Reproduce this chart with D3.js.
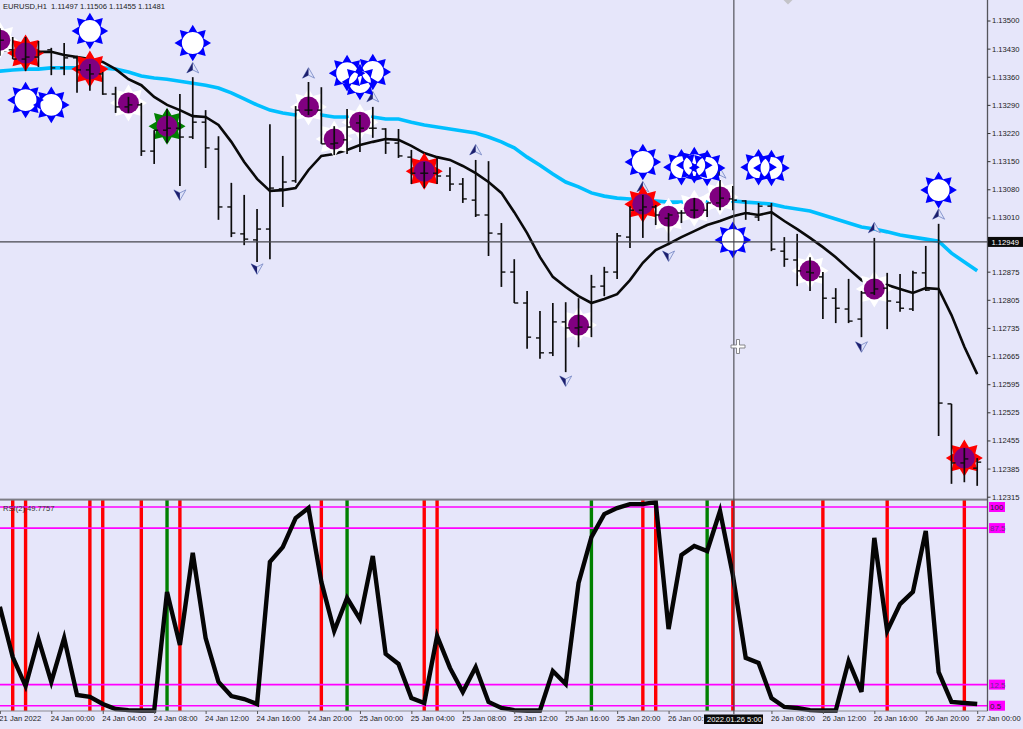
<!DOCTYPE html>
<html><head><meta charset="utf-8">
<script src="https://cdn.jsdelivr.net/npm/d3@7/dist/d3.min.js"></script>
<style>
html,body{margin:0;padding:0;background:#E6E6FA;overflow:hidden}
svg{display:block}
text{font-family:"Liberation Sans",Arial,sans-serif;font-size:7.6px;fill:#222}
</style></head><body><div id="chart"></div>
<script>
// hours relative to 24 Jan 00:00, one bar per hour
const hours = d3.range(-4, 73);
const opens = [1.13464,1.13427,1.13404,1.13409,1.13427,1.13382,1.13407,1.13377,1.13367,1.13317,1.13285,1.13290,1.13175,1.13227,1.13232,1.13210,1.13247,1.13180,1.13036,1.12969,1.12954,1.12981,1.13081,1.13101,1.13277,1.13277,1.13193,1.13203,1.13245,1.13232,1.13230,1.13195,1.13160,1.13120,1.13120,1.13113,1.13093,1.13053,1.13016,1.12969,1.12874,1.12797,1.12710,1.12673,1.12750,1.12735,1.12737,1.12839,1.12874,1.12961,1.13028,1.13036,1.13008,1.13021,1.13028,1.13028,1.13046,1.13056,1.13051,1.13011,1.13038,1.12926,1.12904,1.12874,1.12862,1.12809,1.12782,1.12757,1.12822,1.12834,1.12799,1.12782,1.12872,1.12832,1.12546,1.12399,1.12386];
const highs = [1.13481,1.13459,1.13459,1.13449,1.13432,1.13444,1.13412,1.13392,1.13372,1.13335,1.13310,1.13295,1.13227,1.13280,1.13317,1.13359,1.13277,1.13212,1.13096,1.13066,1.13031,1.13242,1.13163,1.13287,1.13347,1.13334,1.13237,1.13280,1.13265,1.13285,1.13232,1.13230,1.13178,1.13148,1.13158,1.13135,1.13108,1.13153,1.13150,1.12996,1.12906,1.12827,1.12777,1.12797,1.12799,1.12809,1.12867,1.12887,1.12971,1.13038,1.13066,1.13041,1.13021,1.13028,1.13058,1.13046,1.13103,1.13088,1.13053,1.13046,1.13046,1.12961,1.12969,1.12911,1.12874,1.12834,1.12857,1.12827,1.12959,1.12872,1.12869,1.12877,1.12939,1.12994,1.12546,1.12436,1.12411];
const lows = [1.13412,1.13404,1.13374,1.13384,1.13364,1.13364,1.13320,1.13325,1.13315,1.13270,1.13270,1.13163,1.13143,1.13195,1.13088,1.13205,1.13133,1.13004,1.12961,1.12941,1.12899,1.12906,1.13036,1.13096,1.13265,1.13193,1.13165,1.13168,1.13173,1.13208,1.13168,1.13158,1.13093,1.13083,1.13093,1.13076,1.13046,1.13011,1.12914,1.12837,1.12797,1.12683,1.12658,1.12665,1.12625,1.12687,1.12712,1.12814,1.12857,1.12934,1.12959,1.12991,1.12941,1.12996,1.13008,1.13011,1.13028,1.13028,1.13004,1.13001,1.12926,1.12887,1.12839,1.12827,1.12757,1.12747,1.12747,1.12712,1.12817,1.12732,1.12775,1.12777,1.12827,1.12466,1.12347,1.12351,1.12342];
const closes = [1.13451,1.13404,1.13409,1.13422,1.13382,1.13407,1.13377,1.13367,1.13317,1.13285,1.13290,1.13175,1.13227,1.13232,1.13210,1.13247,1.13183,1.13036,1.12971,1.12956,1.12981,1.13083,1.13098,1.13277,1.13277,1.13193,1.13195,1.13235,1.13232,1.13232,1.13195,1.13163,1.13120,1.13120,1.13113,1.13093,1.13056,1.13016,1.12971,1.12874,1.12797,1.12712,1.12673,1.12750,1.12735,1.12737,1.12837,1.12874,1.12964,1.13028,1.13036,1.13016,1.13016,1.13021,1.13028,1.13046,1.13058,1.13053,1.13021,1.13038,1.12931,1.12906,1.12877,1.12872,1.12809,1.12784,1.12752,1.12822,1.12832,1.12802,1.12784,1.12872,1.12829,1.12548,1.12399,1.12409,1.12401];
const fastMA = [1.13427,1.13424,1.13422,1.13422,1.13422,1.13414,1.13409,1.13404,1.13397,1.13379,1.13354,1.13339,1.13310,1.13290,1.13277,1.13262,1.13260,1.13240,1.13198,1.13148,1.13106,1.13076,1.13078,1.13083,1.13128,1.13163,1.13168,1.13178,1.13190,1.13198,1.13205,1.13203,1.13188,1.13170,1.13160,1.13153,1.13138,1.13120,1.13098,1.13071,1.13023,1.12971,1.12911,1.12862,1.12837,1.12814,1.12797,1.12807,1.12819,1.12854,1.12897,1.12929,1.12944,1.12961,1.12976,1.12991,1.13001,1.13013,1.13021,1.13016,1.13023,1.13001,1.12981,1.12959,1.12936,1.12911,1.12882,1.12854,1.12837,1.12842,1.12832,1.12822,1.12834,1.12832,1.12767,1.12688,1.12620];
const slowMA = [1.13374,1.13377,1.13379,1.13379,1.13382,1.13382,1.13382,1.13382,1.13382,1.13379,1.13372,1.13362,1.13357,1.13354,1.13349,1.13344,1.13339,1.13332,1.13320,1.13305,1.13290,1.13277,1.13270,1.13265,1.13265,1.13265,1.13260,1.13260,1.13260,1.13260,1.13255,1.13255,1.13247,1.13240,1.13235,1.13230,1.13225,1.13220,1.13210,1.13198,1.13183,1.13160,1.13140,1.13118,1.13098,1.13086,1.13071,1.13063,1.13058,1.13056,1.13053,1.13051,1.13048,1.13048,1.13051,1.13051,1.13051,1.13051,1.13048,1.13046,1.13043,1.13036,1.13031,1.13026,1.13016,1.13006,1.12996,1.12986,1.12981,1.12974,1.12966,1.12961,1.12956,1.12951,1.12921,1.12899,1.12877];
const rsi = [49.8,25.7,11.8,34.4,13.8,34.8,7.5,6.6,3.2,0.8,0.3,0.1,0.1,56.9,31.5,75.6,34.8,13.8,7.0,5.6,3.2,71.3,78.4,92.3,97.1,61.7,38.2,54.0,43.9,74.1,27.2,22.4,6.1,3.7,35.8,20.5,9.0,20.9,4.2,1.3,0.3,0.1,0.1,19.0,12.8,61.2,83.2,94.2,97.1,99.0,99.0,100,39.1,74.6,78.9,76.5,95.7,65.0,25.3,22.9,6.1,1.8,1.3,0.3,0.1,0.1,23.8,9.0,82.8,38.2,51.1,56.9,86.1,18.5,4.2,3.7,3.2];

const whiteIdx = [-4,6,20,22,24,41,48,50,52,59,64];
const whitePrice = [1.13451,1.13295,1.13285,1.13205,1.13247,1.12742,1.13013,1.13033,1.13061,1.12877,1.12832];
const redIdx = [-2,3,29,46,71];
const redPrice = [1.13419,1.13379,1.13125,1.13043,1.12411];
const greenIdx = [9];
const greenPrice = [1.13237];
const blueIdx = [3,11,-2,0,23,24,25,46,49,50,51,55,56,53,69];
const bluePrice = [1.13474,1.13444,1.13302,1.13290,1.13369,1.13347,1.13372,1.13148,1.13135,1.13140,1.13133,1.13135,1.13133,1.12954,1.13078];
const upIdx = [11,20,25,33,46,52,64,69];
const upPrice = [1.13382,1.13369,1.13310,1.13178,1.13086,1.13120,1.12984,1.13018];
const downIdx = [10,16,40,48,63];
const downPrice = [1.13066,1.12882,1.12603,1.12914,1.12688];
const redBars = [-3,-2,3,4,7,10,21,29,30,46,47,53,60,65,71];
const greenBars = [9,23,42,51];

const priceTicks = [1.135,1.1343,1.1336,1.1329,1.1322,1.1315,1.1308,1.1301,1.12875,1.12805,1.12735,1.12665,1.12595,1.12525,1.12455,1.12385,1.12315];
const timeTickIdx = [-4,0,4,8,12,16,20,24,28,32,36,40,44,48,56,60,64,68,72];
const timeTickLabels = ["21 Jan 2022","24 Jan 00:00","24 Jan 04:00","24 Jan 08:00","24 Jan 12:00","24 Jan 16:00","24 Jan 20:00","25 Jan 00:00","25 Jan 04:00","25 Jan 08:00","25 Jan 12:00","25 Jan 16:00","25 Jan 20:00","26 Jan 00:","26 Jan 08:00","26 Jan 12:00","26 Jan 16:00","26 Jan 20:00","27 Jan 00:00"];
const levelValues = [97.6,87.5,12.5,2.4];
const levelLabels = ["100","87.5","12.5","0.5"];
const levelText = ["#222","#6a2a90","#6a2a90","#222"];
const currentPrice = 1.12949;
const crossIdx = 53;

const W=1023,H=729,axisX=987.5,paneBottom=711;
const x=d3.scaleLinear().domain([0,72]).range([51.3,977.2]);
const y=d3.scaleLinear().domain([1.12315,1.135]).range([496.7,20.5]);
const r=d3.scaleLinear().domain([0,100]).range([710.7,502]);
const svg=d3.select("#chart").append("svg").attr("width",W).attr("height",H);
svg.append("rect").attr("width",W).attr("height",H).attr("fill","#E6E6FA");

// moving averages
const priceLine=d3.line().x((d,i)=>x(hours[i])).y(d=>y(d));
svg.append("path").attr("d",priceLine(slowMA)).attr("fill","none").attr("stroke","#00BFFF").attr("stroke-width",3.6);
svg.append("path").attr("d",priceLine(fastMA)).attr("fill","none").attr("stroke","#0a0a0a").attr("stroke-width",2.6);

// arrows
const upShape=d3.line()([[0,-5.5],[6,5],[0,2],[-6,5]])+"Z";
const upLeft=d3.line()([[0,-5.5],[0,2],[-6,5]])+"Z";
function arrows(idx,prices,flip){
  idx.forEach((d,k)=>{
    const g=svg.append("g").attr("transform",`translate(${x(d)},${y(prices[k])}) scale(1,${flip?-1:1})`);
    g.append("path").attr("d",upShape).attr("fill","#dfe3fa").attr("stroke","#7f8fc8").attr("stroke-width",0.9);
    g.append("path").attr("d",upLeft).attr("fill","#1c1f6e");
  });
}
arrows(upIdx,upPrice,false);
arrows(downIdx,downPrice,true);

// stars
const angle=d3.scaleLinear().domain([0,16]).range([0,2*Math.PI]);
const starOf=(outer,inner)=>d3.lineRadial().curve(d3.curveLinearClosed)
  .angle(d=>angle(d)).radius(d=>d%2===0?outer:inner)(d3.range(16));
const discOf=R=>d3.arc().innerRadius(0).outerRadius(R).startAngle(0).endAngle(2*Math.PI)();
const signalStar=starOf(18.5,11.9),blueStar=starOf(18.3,11.7);
const purpleDisc=discOf(10.5),whiteDisc=discOf(10.9);
function signal(idx,prices,colour){
  idx.forEach((d,k)=>{
    const g=svg.append("g").attr("transform",`translate(${x(d)},${y(prices[k])})`);
    g.append("path").attr("d",signalStar).attr("fill",colour);
    g.append("path").attr("d",purpleDisc).attr("fill","#800080");
  });
}
signal(whiteIdx,whitePrice,"#fff");
signal(greenIdx,greenPrice,"#008000");
signal(redIdx,redPrice,"#ff0000");

// OHLC bars
const bars=svg.append("g").attr("stroke","#0c0c0c");
hours.forEach((h,i)=>{
  const px=x(h);
  bars.append("line").attr("x1",px).attr("x2",px).attr("y1",y(highs[i])).attr("y2",y(lows[i])).attr("stroke-width",1.7);
  bars.append("line").attr("x1",px-4).attr("x2",px).attr("y1",y(opens[i])).attr("y2",y(opens[i])).attr("stroke-width",1.4);
  bars.append("line").attr("x1",px).attr("x2",px+4).attr("y1",y(closes[i])).attr("y2",y(closes[i])).attr("stroke-width",1.4);
});

// blue sun markers: white centres first, then rings
blueIdx.forEach((d,k)=>{
  svg.append("path").attr("d",whiteDisc).attr("transform",`translate(${x(d)},${y(bluePrice[k])})`).attr("fill","#fff");
});
blueIdx.forEach((d,k)=>{
  svg.append("path").attr("d",blueStar+whiteDisc).attr("fill-rule","evenodd").attr("transform",`translate(${x(d)},${y(bluePrice[k])})`).attr("fill","#0000ff");
});

// RSI pane
const barsR=svg.append("g");
redBars.forEach(d=>barsR.append("line").attr("x1",x(d)).attr("x2",x(d)).attr("y1",500).attr("y2",paneBottom).attr("stroke","#ff0000").attr("stroke-width",3.4));
greenBars.forEach(d=>barsR.append("line").attr("x1",x(d)).attr("x2",x(d)).attr("y1",500).attr("y2",paneBottom).attr("stroke","#008000").attr("stroke-width",3.4));
levelValues.forEach(v=>svg.append("line").attr("x1",0).attr("x2",axisX).attr("y1",r(v)).attr("y2",r(v)).attr("stroke","#ff00ff").attr("stroke-width",1.6));
svg.append("path").attr("d",d3.line().x((d,i)=>x(hours[i])).y(d=>r(d))(rsi)).attr("fill","none").attr("stroke","#050505").attr("stroke-width",4.4).attr("stroke-linejoin","miter");

// frame
svg.append("rect").attr("x",0).attr("y",498.6).attr("width",axisX).attr("height",2).attr("fill","#7d7d85");
svg.append("line").attr("x1",0).attr("x2",axisX).attr("y1",paneBottom).attr("y2",paneBottom).attr("stroke","#8a8a92").attr("stroke-width",1);
svg.append("line").attr("x1",axisX).attr("x2",axisX).attr("y1",0).attr("y2",paneBottom).attr("stroke","#55555c").attr("stroke-width",1.3);

// axes
const priceAxis=d3.axisRight(y).tickValues(priceTicks).tickFormat(d3.format(".5f")).tickSize(3).tickPadding(1.5);
const pa=svg.append("g").attr("transform",`translate(${axisX},0)`).call(priceAxis);
pa.select(".domain").remove();
pa.selectAll("line").attr("stroke","#333");
pa.selectAll("text").style("font-size","7.6px").style("font-family","'Liberation Sans'").attr("fill","#222");
const timeAxis=d3.axisBottom(x).tickValues(timeTickIdx).tickFormat((d,k)=>timeTickLabels[k]).tickSize(3).tickPadding(2);
const ta=svg.append("g").attr("transform",`translate(0,${paneBottom})`).call(timeAxis);
ta.select(".domain").remove();
ta.selectAll("line").attr("stroke","#555");
ta.selectAll("text").attr("text-anchor","start").attr("dx","-1").style("font-size","7.6px").style("font-family","'Liberation Sans'").attr("fill","#222");

// level tags
levelValues.forEach((v,k)=>{
  svg.append("rect").attr("x",989).attr("y",r(v)-5).attr("width",16).attr("height",10).attr("fill","#ff00ff");
  svg.append("text").attr("x",990).attr("y",r(v)+3).style("font-size","8px").style("fill",levelText[k]).text(levelLabels[k]);
});

// crosshair
const cy=y(currentPrice),cx=x(crossIdx)+1;
svg.append("line").attr("x1",0).attr("x2",axisX).attr("y1",cy).attr("y2",cy).attr("stroke","#46464c").attr("stroke-width",1.1);
svg.append("line").attr("x1",cx).attr("x2",cx).attr("y1",0).attr("y2",714).attr("stroke","#46464c").attr("stroke-width",1.1);
svg.append("rect").attr("x",988).attr("y",cy-5).attr("width",35).attr("height",10).attr("fill","#0a0a0a");
svg.append("text").attr("x",991.5).attr("y",cy+2.8).style("fill","#fff").text(d3.format(".5f")(currentPrice));
svg.append("rect").attr("x",704).attr("y",714.5).attr("width",59).attr("height",9.5).attr("fill","#0a0a0a");
svg.append("text").attr("x",707).attr("y",722).style("fill","#fff").text("2022.01.26 5:00");

// mouse pointer
const cursor=svg.append("g").attr("transform","translate(738,346.5)");
cursor.append("path").attr("d",d3.line()([[-7,-1.5],[-1.5,-1.5],[-1.5,-7],[1.5,-7],[1.5,-1.5],[7,-1.5],[7,1.5],[1.5,1.5],[1.5,7],[-1.5,7],[-1.5,1.5],[-7,1.5]])+"Z").attr("fill","#fff").attr("stroke","#7a7a80").attr("stroke-width",0.9);

// small marker clipped at chart top
svg.append("path").attr("d",d3.symbol(d3.symbolSquare,60)()).attr("transform","translate(788,-1) rotate(45)").attr("fill","#c4c4c8");

// headers
svg.append("text").attr("x",3).attr("y",8.5).style("white-space","pre").text("EURUSD,H1  1.11497 1.11506 1.11455 1.11481");
svg.append("text").attr("x",3).attr("y",510.5).style("fill","#333").text("RSI(2) 49.7757");
</script></body></html>
